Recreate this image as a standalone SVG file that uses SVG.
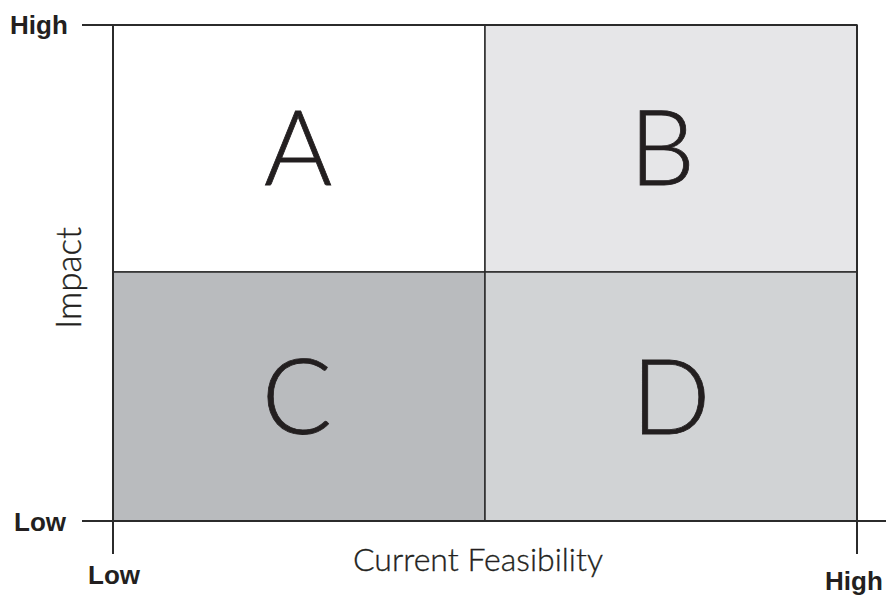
<svg xmlns="http://www.w3.org/2000/svg" width="886" height="597" viewBox="0 0 886 597">
<style>
.q{stroke:#2b2b2b;stroke-width:1.5}
.ax{stroke:#2b2b2b;stroke-width:2;fill:none}
.big{font-family:"Lato","Liberation Sans",sans-serif;font-weight:300;font-size:104px;fill:#231f20;text-anchor:middle;stroke:#231f20;stroke-width:0.8}
.lbl{font-family:"Lato","Liberation Sans",sans-serif;font-weight:300;fill:#231f20;text-anchor:middle;stroke:#231f20;stroke-width:0.35}
.tick{font-family:"Liberation Sans",Arial,sans-serif;font-weight:bold;font-size:26px;fill:#231f20}
</style>
<rect width="886" height="597" fill="#ffffff"/>
<g id="A"><rect x="113" y="25" width="372" height="247" fill="#ffffff" class="q"/><text x="298" y="185" class="big">A</text></g>
<g id="B"><rect x="485" y="25" width="372" height="247" fill="#e6e6e8" class="q"/><text x="662" y="185" class="big">B</text></g>
<g id="C"><rect x="113" y="272" width="372" height="249" fill="#b9bbbe" class="q"/><text x="297" y="434" class="big">C</text></g>
<g id="D"><rect x="485" y="272" width="372" height="249" fill="#d1d3d5" class="q"/><text x="671" y="434" class="big">D</text></g>
<g id="axes">
<path class="ax" d="M82 25H857M113 25V554M82 521H886M857 25V554"/>
</g>
<g id="labels">
<text x="10" y="34" class="tick">High</text>
<text x="14" y="531" class="tick">Low</text>
<text x="88" y="584" class="tick">Low</text>
<text x="825" y="590" class="tick">High</text>
<text x="478" y="571" class="lbl" font-size="32">Current Feasibility</text>
<text transform="translate(81 278) rotate(-90)" class="lbl" font-size="35">Impact</text>
</g>
</svg>
